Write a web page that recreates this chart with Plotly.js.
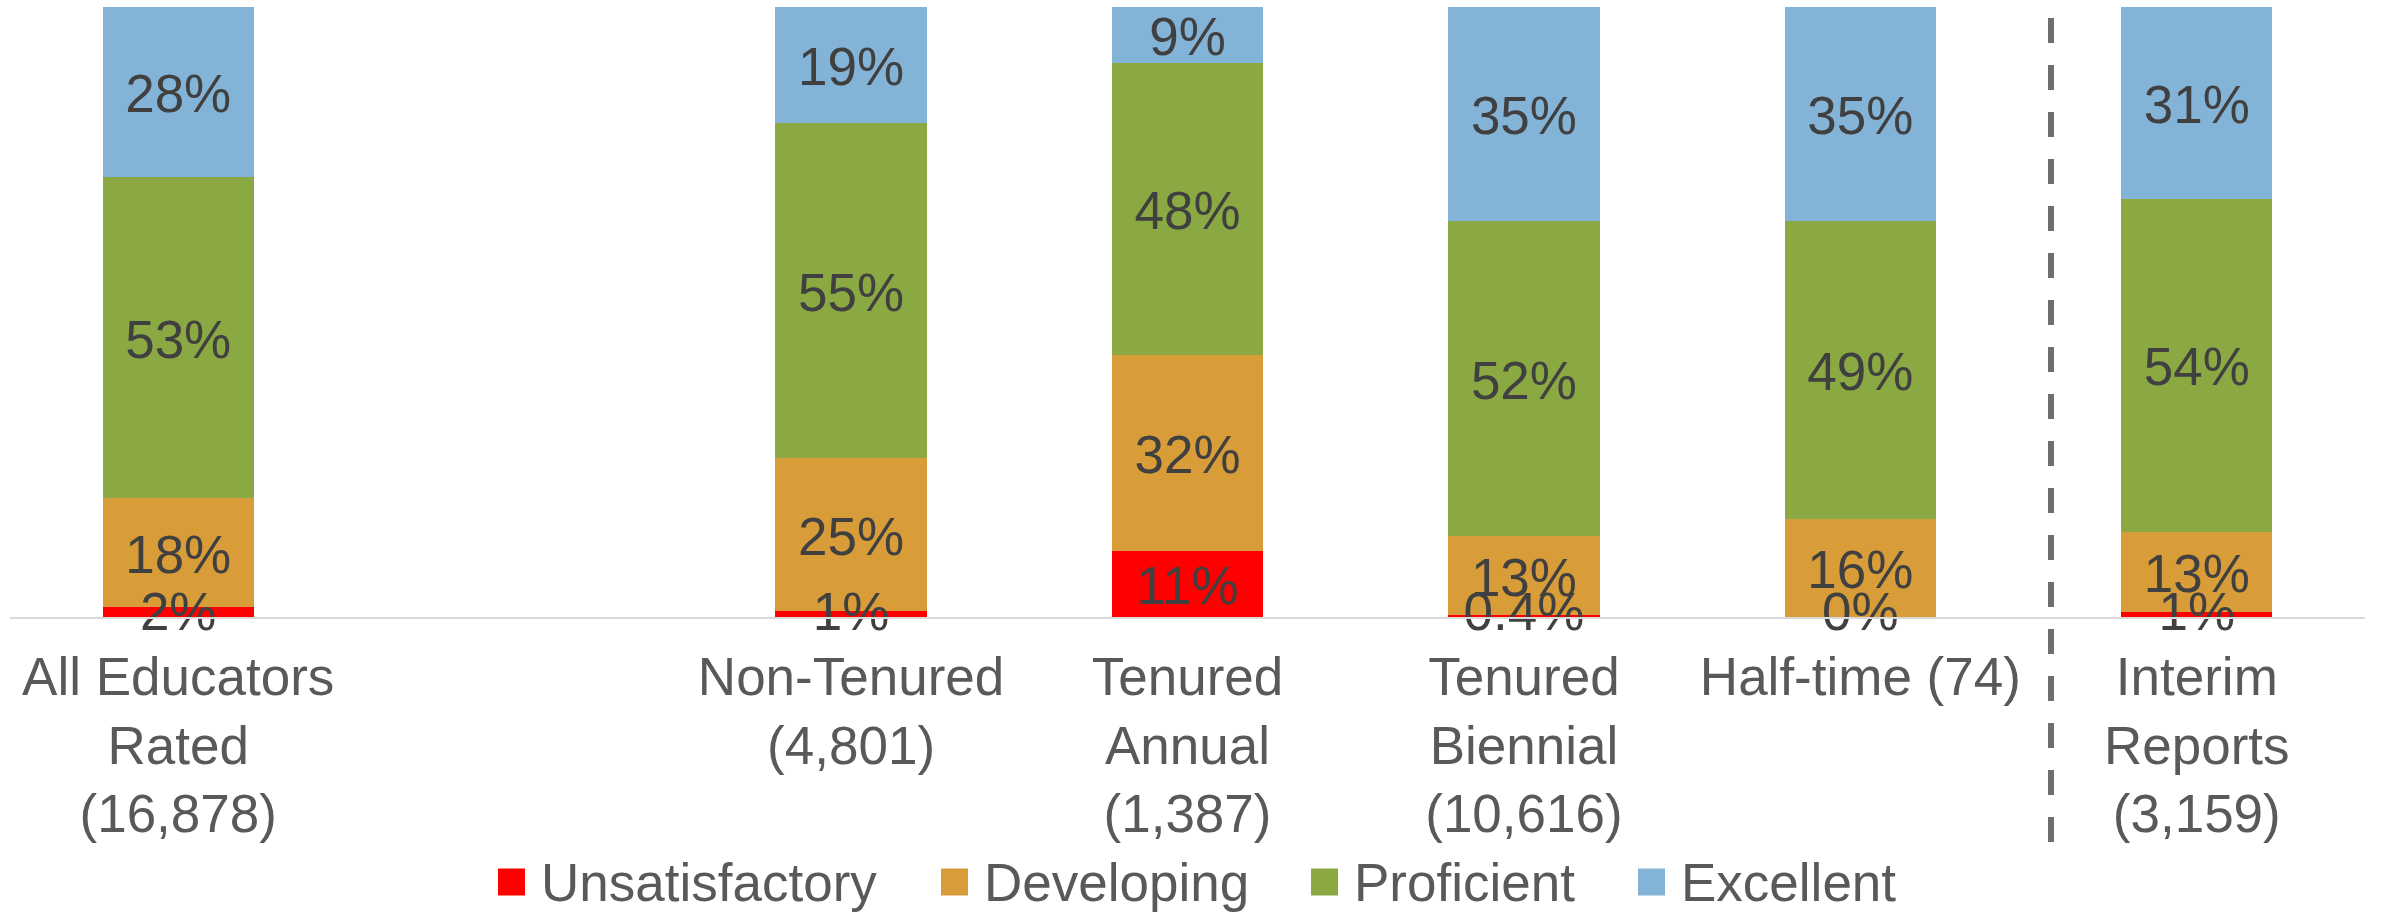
<!DOCTYPE html>
<html>
<head>
<meta charset="utf-8">
<script src="https://cdn.plot.ly/plotly-3.0.1.min.js"></script>
<style>
  html, body { margin: 0; padding: 0; background: #ffffff; }
  #chart { width: 2407px; height: 917px; }
</style>
</head>
<body>
<div id="chart"></div>
<script>
// ---- data ----
const categories = [
  'All Educators<br>Rated<br>(16,878)',
  ' ',
  'Non-Tenured<br>(4,801)',
  'Tenured<br>Annual<br>(1,387)',
  'Tenured<br>Biennial<br>(10,616)',
  'Half-time (74)',
  'Interim<br>Reports<br>(3,159)'
];
const seriesNames = ['Unsatisfactory', 'Developing', 'Proficient', 'Excellent'];
// segment sizes (percent)
const unsatisfactory = [1.7, null, 1.0, 10.8, 0.4, 0, 0.9];
const developing     = [17.8, null, 25.1, 32.1, 12.8, 16.0, 13.1];
const proficient     = [52.6, null, 54.9, 48.0, 51.8, 49.0, 54.6];
const excellent      = [27.9, null, 19.0, 9.1, 35.0, 35.0, 31.4];
// data labels as printed on the chart
const unsatisfactoryLabels = ['2%', '', '1%', '11%', '0.4%', '0%', '1%'];
const developingLabels     = ['18%', '', '25%', '32%', '13%', '16%', '13%'];
const proficientLabels     = ['53%', '', '55%', '48%', '52%', '49%', '54%'];
const excellentLabels      = ['28%', '', '19%', '9%', '35%', '35%', '31%'];

// ---- styles / layout geometry (pixels) ----
const colors = ['#FF0000', '#D89C38', '#8BA943', '#84B3D8'];
const FONT = 'Liberation Sans, Arial, sans-serif';
const W = 2407, H = 917;
const M = { l: 10, r: 42, t: 7, b: 300 };
const plotW = W - M.l - M.r, plotH = H - M.t - M.b;
const px2paperX = px => (px - M.l) / plotW;
const px2paperY = py => (H - M.b - py) / plotH;
const legendBoxX = [498, 941, 1311, 1638];   // left edge of each legend swatch
const legendCY = 882, legendBox = 27, legendTextGap = 14;
const labelDrop = 7 * 100 / plotH;            // labels sit ~7px below segment centre

const seriesValues = [unsatisfactory, developing, proficient, excellent];
const seriesLabels = [unsatisfactoryLabels, developingLabels, proficientLabels, excellentLabels];

const traces = [];
seriesValues.forEach((vals, s) => {
  traces.push({
    type: 'bar',
    name: seriesNames[s],
    x: categories,
    y: vals,
    width: 0.45,
    marker: { color: colors[s], line: { width: 0 } },
    hoverinfo: 'skip',
    showlegend: false
  });
});
// data labels centred on each segment (computed from the same arrays)
const base = categories.map(() => 0);
seriesValues.forEach((vals, s) => {
  const ys = [];
  vals.forEach((v, i) => {
    if (v === null) { ys.push(null); return; }
    ys.push(Math.max(0, base[i] + v / 2 - labelDrop));
    base[i] += v;
  });
  traces.push({
    type: 'scatter',
    mode: 'text',
    x: categories,
    y: ys,
    text: seriesLabels[s],
    textposition: 'middle center',
    textfont: { family: FONT, size: 53, color: '#404040' },
    cliponaxis: false,
    showlegend: false,
    hoverinfo: 'skip'
  });
});

// dashed separator + custom legend (large square swatches like the original)
const shapes = [{
  type: 'line',
  xref: 'paper', yref: 'paper',
  x0: px2paperX(2051), x1: px2paperX(2051),
  y0: px2paperY(18), y1: px2paperY(848),
  line: { color: '#6E6E6E', width: 6, dash: '25px,22px' }
}];
const annotations = [];
seriesNames.forEach((name, s) => {
  const x0 = legendBoxX[s];
  shapes.push({
    type: 'rect', xref: 'paper', yref: 'paper',
    x0: px2paperX(x0), x1: px2paperX(x0 + legendBox),
    y0: px2paperY(legendCY - legendBox / 2), y1: px2paperY(legendCY + legendBox / 2),
    fillcolor: colors[s], line: { width: 0 }
  });
  annotations.push({
    xref: 'paper', yref: 'paper',
    x: px2paperX(x0 + legendBox + legendTextGap), y: px2paperY(legendCY),
    xanchor: 'left', yanchor: 'middle',
    text: name, showarrow: false,
    font: { family: FONT, size: 53, color: '#595959' }
  });
});

const layout = {
  width: W,
  height: H,
  margin: { l: M.l, r: M.r, t: M.t, b: M.b, autoexpand: false },
  paper_bgcolor: '#ffffff',
  plot_bgcolor: '#ffffff',
  barmode: 'stack',
  showlegend: false,
  font: { family: FONT, size: 53, color: '#595959' },
  xaxis: {
    type: 'category',
    categoryorder: 'array',
    categoryarray: categories,
    range: [-0.5, 6.5],
    showgrid: false,
    zeroline: false,
    showline: true,
    linecolor: '#D9D9D9',
    linewidth: 2,
    ticks: '',
    ticklabelstandoff: 12,
    automargin: false,
    tickfont: { family: FONT, size: 53, color: '#595959' },
    fixedrange: true
  },
  yaxis: {
    range: [0, 100],
    visible: false,
    showgrid: false,
    zeroline: false,
    fixedrange: true
  },
  shapes: shapes,
  annotations: annotations
};

Plotly.newPlot('chart', traces, layout, { displayModeBar: false, staticPlot: true });
</script>
</body>
</html>
